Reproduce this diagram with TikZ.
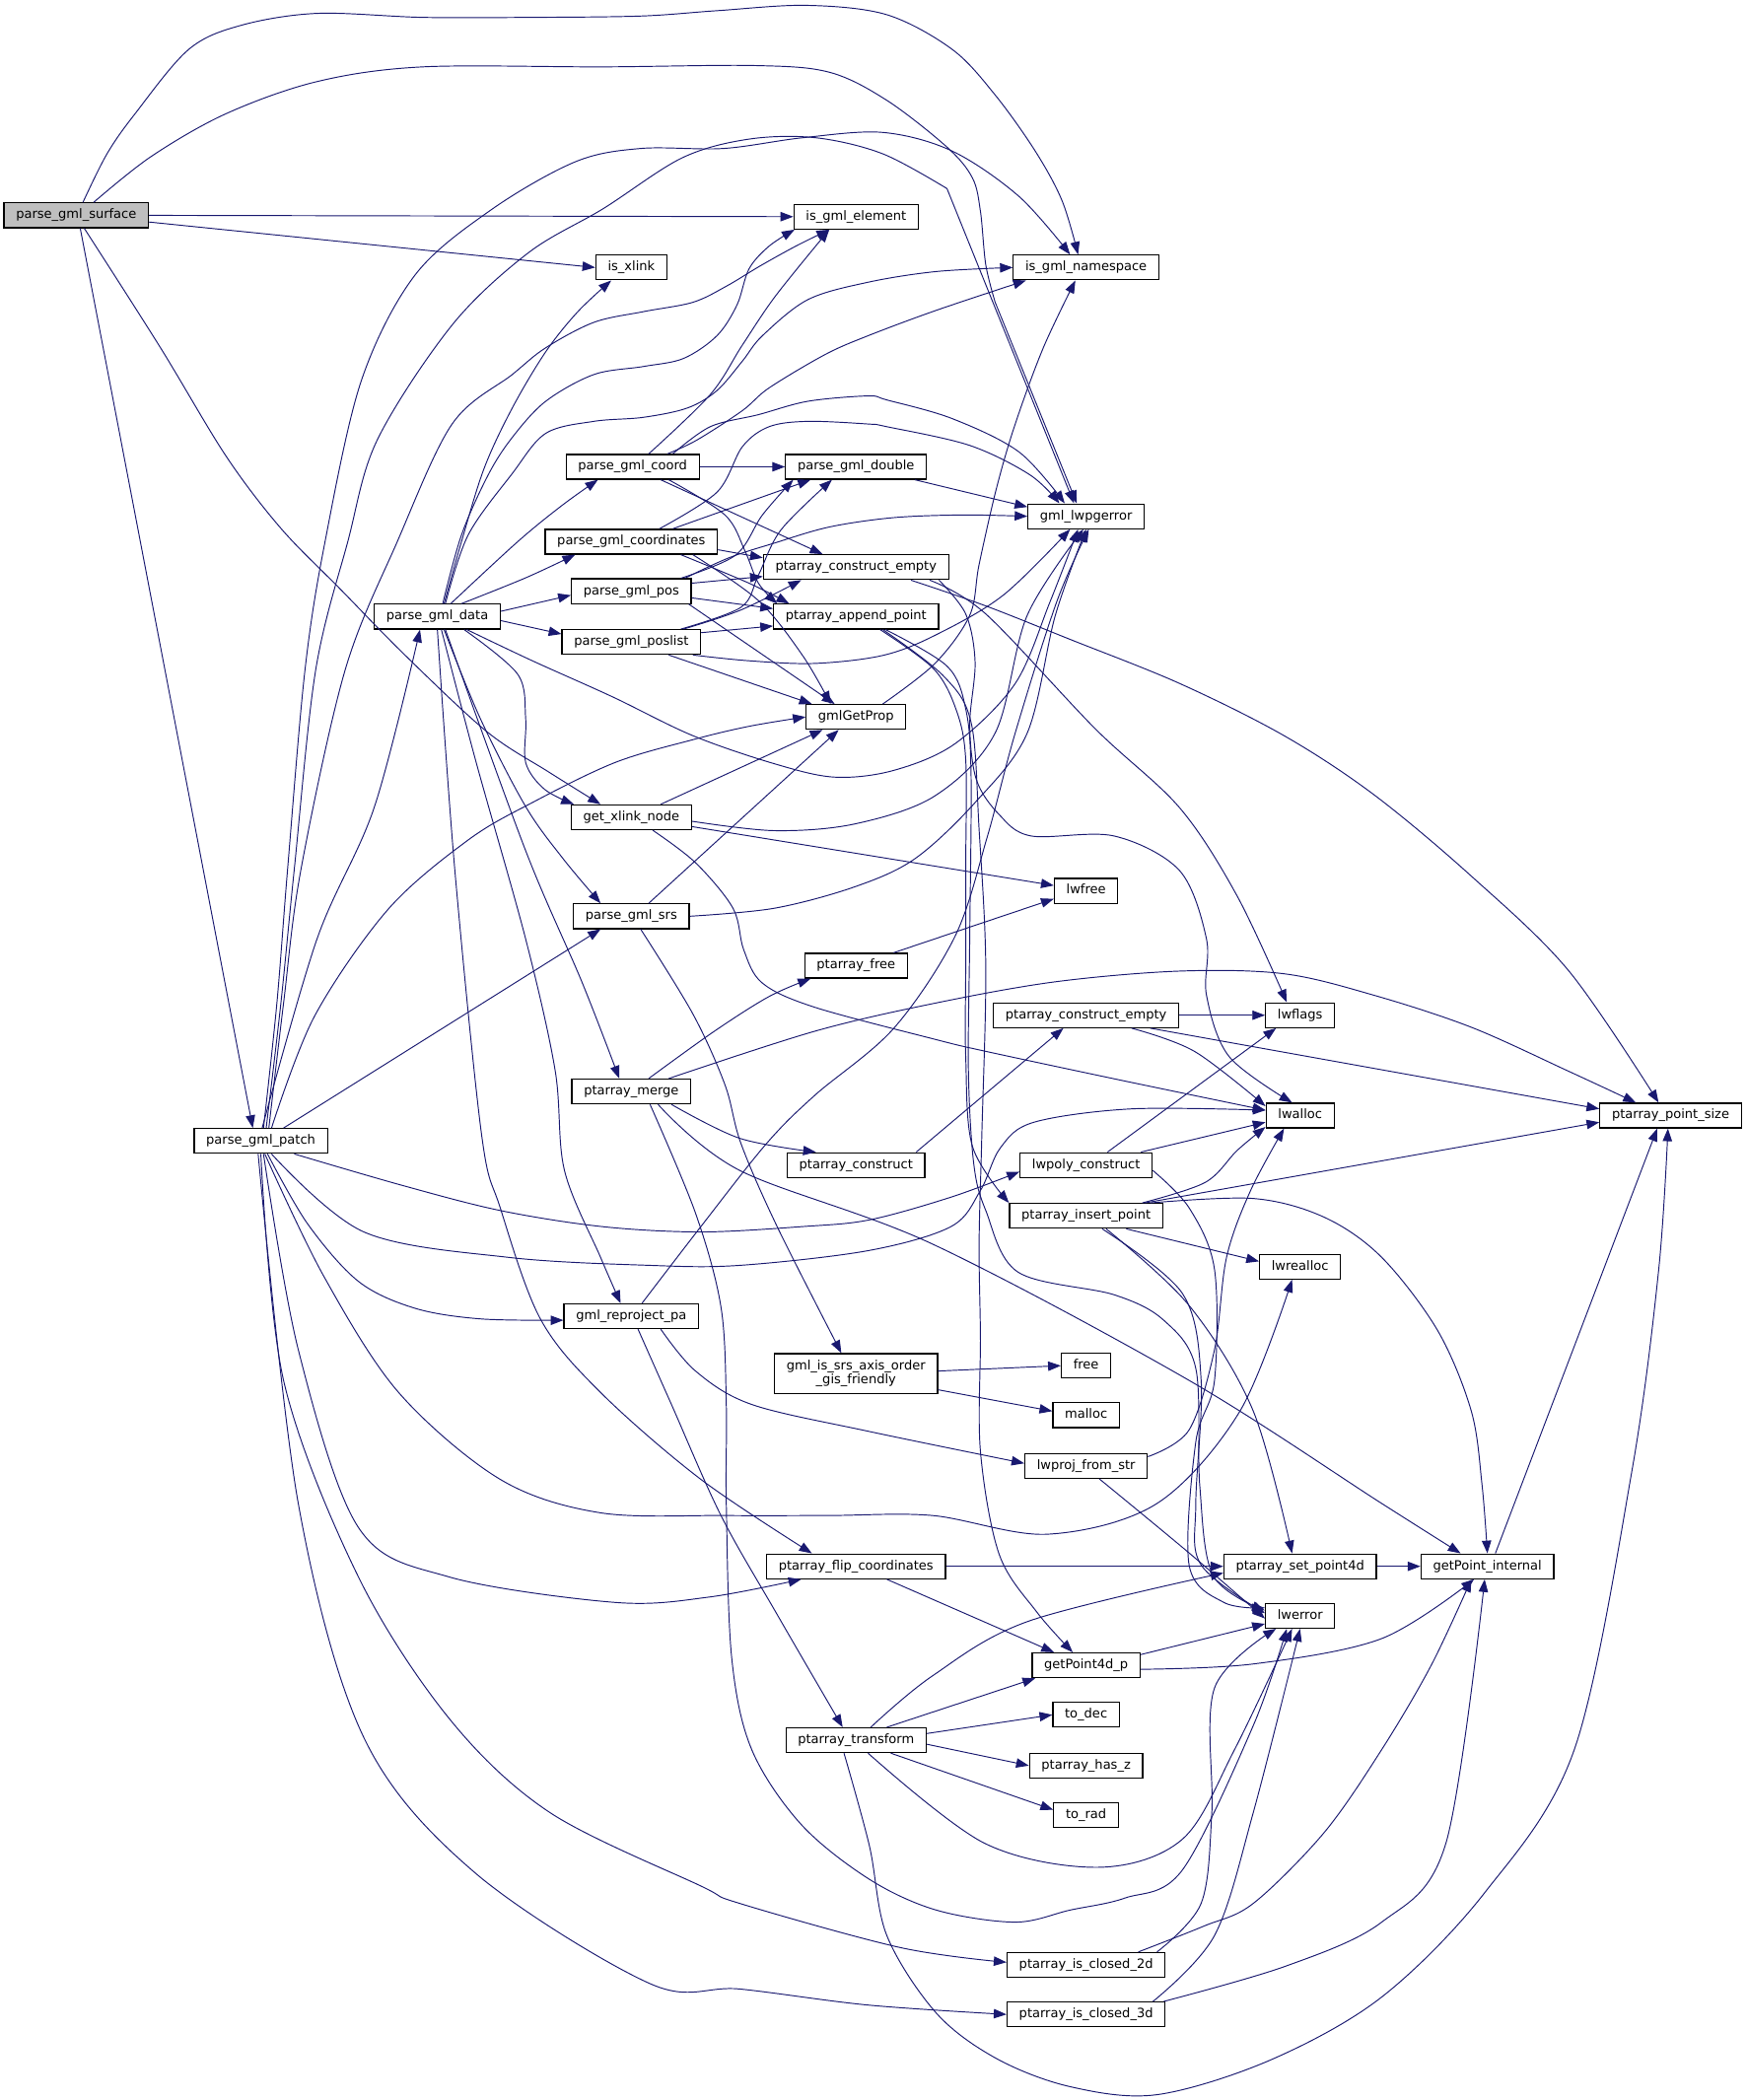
\documentclass[tikz,border=0pt]{standalone}
\usepackage{fontspec}
\setmainfont{DejaVu Sans}
\usetikzlibrary{arrows.meta}
\definecolor{edgeblue}{RGB}{25,25,112}
\definecolor{rootgray}{RGB}{191,191,191}

\begin{document}
\begin{tikzpicture}[x=1pt, y=-1pt,
    fnbox/.style={draw=black, line width=0.9pt, fill=white, inner xsep=9pt, inner ysep=0pt,
      minimum height=18.5pt, text height=7.2pt, text depth=2.2pt,
      font=\fontsize{9.6}{11}\selectfont},
    rootbox/.style={fill=rootgray},
    call/.style={draw=edgeblue, line width=0.7pt, -{Triangle[length=9.5pt,width=7pt]}},
    crv/.style={smooth, tension=0.55}]
    % Page
    \fill[white] (0,0) rectangle (1306,1570);
    \useasboundingbox (0,0) rectangle (1306,1570);

    % Functions
    \node[fnbox, rootbox] (surf) at (57,161) {parse\_gml\_surface};
    \node[fnbox] (iselem) at (640,162) {is\_gml\_element};
    \node[fnbox] (isxlink) at (472,200) {is\_xlink};
    \node[fnbox] (isns) at (812,200) {is\_gml\_namespace};
    \node[fnbox] (coord) at (473,349) {parse\_gml\_coord};
    \node[fnbox] (dbl) at (640,349) {parse\_gml\_double};
    \node[fnbox] (gmlerr) at (812,386) {gml\_lwpgerror};
    \node[fnbox] (coords) at (472,405) {parse\_gml\_coordinates};
    \node[fnbox] (cempty) at (640,424) {ptarray\_construct\_empty};
    \node[fnbox] (pos) at (472,442) {parse\_gml\_pos};
    \node[fnbox] (append) at (640,461) {ptarray\_append\_point};
    \node[fnbox] (poslist) at (472,480) {parse\_gml\_poslist};
    \node[fnbox] (data) at (327,461) {parse\_gml\_data};
    \node[fnbox] (getprop) at (640,536) {gmlGetProp};
    \node[fnbox] (xlink) at (472,611) {get\_xlink\_node};
    \node[fnbox] (lwfree) at (812,666) {lwfree};
    \node[fnbox] (srs) at (472,685) {parse\_gml\_srs};
    \node[fnbox] (pafree) at (640,722) {ptarray\_free};
    \node[fnbox] (cemptytwo) at (812,759) {ptarray\_construct\_empty};
    \node[fnbox] (lwflags) at (972,759) {lwflags};
    \node[fnbox] (merge) at (472,816) {ptarray\_merge};
    \node[fnbox] (lwalloc) at (972,834) {lwalloc};
    \node[fnbox] (ptsize) at (1249,834) {ptarray\_point\_size};
    \node[fnbox] (patch) at (195,853) {parse\_gml\_patch};
    \node[fnbox] (construct) at (640,871) {ptarray\_construct};
    \node[fnbox] (polyc) at (812,871) {lwpoly\_construct};
    \node[fnbox] (insert) at (812,909) {ptarray\_insert\_point};
    \node[fnbox] (lwrealloc) at (972,947) {lwrealloc};
    \node[fnbox] (reproj) at (472,984) {gml\_reproject\_pa};
    \node[fnbox, text height={}, text depth={}, align=center, minimum height=30pt,
      font=\fontsize{9.6}{10.6}\selectfont] (axisord) at (640,1027) {gml\_is\_srs\_axis\_order\\\_gis\_friendly};
    \node[fnbox] (free) at (812,1021) {free};
    \node[fnbox] (malloc) at (812,1058) {malloc};
    \node[fnbox] (projstr) at (812,1096) {lwproj\_from\_str};
    \node[fnbox] (flip) at (640,1171) {ptarray\_flip\_coordinates};
    \node[fnbox] (setpt) at (972,1171) {ptarray\_set\_point4d};
    \node[fnbox] (getpt) at (1112,1171) {getPoint\_internal};
    \node[fnbox] (lwerror) at (972,1208) {lwerror};
    \node[fnbox] (getptfour) at (812,1245) {getPoint4d\_p};
    \node[fnbox] (todec) at (812,1282) {to\_dec};
    \node[fnbox] (transform) at (640,1301) {ptarray\_transform};
    \node[fnbox] (hasz) at (812,1320) {ptarray\_has\_z};
    \node[fnbox] (torad) at (812,1357) {to\_rad};
    \node[fnbox] (closedtwo) at (812,1469) {ptarray\_is\_closed\_2d};
    \node[fnbox] (closedthree) at (812,1506) {ptarray\_is\_closed\_3d};

    % parse_gml_surface
    \draw[call] (surf.east) -- (iselem.west);
    \draw[call] ([yshift=-5pt]surf.east) -- (isxlink.west);
    \draw[call] plot[crv] coordinates {([xshift=5pt]surf.north) (80,115) (101,85) (141,37) (180,19) (237,10) (316,13) (395,13) (479,12) (536,8) (603,4) (663,11) (712,37) (744,71) (774,113) (794,150) ([xshift=-6pt]isns.north)};
    \draw[call] plot[crv] coordinates {([xshift=13pt]surf.north) (113,117) (169,85) (237,61) (316,50) (451,50) (564,49) (620,54) (663,75) (708,110) (727,133) (733,158) (737,198) (744,226)} -- ([xshift=-7pt]gmlerr.north);
    \draw[call] plot[crv] coordinates {([xshift=6pt]surf.south) (120,260) (169,341) (210,395) (254,440) (303,490) (364,547) (410,577) ([xshift=-23pt]xlink.north)};
    \draw[call] ([xshift=3pt]surf.south) -- ([xshift=-6pt]patch.north);

    % parse_gml_patch
    \draw[call] plot[crv] coordinates {([xshift=2pt]patch.north) (207,750) (215,650) (228,501) (243,405) (270,285) (310,206) (367,157) (430,121) (479,111) (541,111) (600,103) (660,99) (712,113) (762,147) ([xshift=-12pt]isns.north)};
    \draw[call] plot[crv] coordinates {([xshift=4pt]patch.north) (210,750) (220,650) (236,501) (260,405) (282,329) (338,243) (395,189) (451,156) (510,118) (560,104) (610,103) (660,115) (708,141)} -- ([xshift=-9pt]gmlerr.north);
    \draw[call] plot[crv] coordinates {([xshift=6pt]patch.north) (212,750) (225,650) (258,501) (297,405) (338,317) (383,280) (408,260) (444,241) (481,233) (518,226) (543,214) (568,199) (595,184) ([xshift=-20pt]iselem.south)};
    \draw[call] plot[crv] coordinates {([xshift=1pt]patch.north) (237,702) (280,603) ([xshift=-13pt]data.south)};
    \draw[call] plot[crv] coordinates {([xshift=8pt]patch.north) (235,760) (290,680) (350,628) (398,600) (460,570) (518,553) (560,543) (getprop.west)};
    \draw[call] ([xshift=17pt]patch.north) -- ([xshift=-23pt]srs.south);
    \draw[call] plot[crv] coordinates {([xshift=25pt]patch.south) (300,886) (374,905) (450,917) (524,921) (600,917) (650,912) (711,895) ([yshift=-5pt]polyc.west)};
    \draw[call] plot[crv] coordinates {([xshift=8pt]patch.south) (272,921) (380,940) (486,946) (553,946) (649,935) (711,917) (733,890) (748,858) (773,839) (846,829) ([yshift=4pt]lwalloc.west)};
    \draw[call] plot[crv] coordinates {([xshift=5pt]patch.south) (230,915) (268,958) (310,978) (359,986) ([yshift=-3pt]reproj.west)};
    \draw[call] plot[crv] coordinates {([xshift=3pt]patch.south) (242,954) (298,1041) (374,1106) (449,1131) (543,1133) (620,1133) (697,1133) (783,1147) (865,1124) (927,1055) ([xshift=-6pt]lwrealloc.south)};
    \draw[call] plot[crv] coordinates {([xshift=2pt]patch.south) (223,1009) (268,1142) (336,1179) (460,1198) (530,1194) ([xshift=-41pt]flip.south)};
    \draw[call] plot[crv] coordinates {(patch.south) (212,1032) (268,1179) (336,1285) (411,1355) (524,1410) (553,1423) (673,1456) ([yshift=2pt]closedtwo.west)};
    \draw[call] plot[crv] coordinates {([xshift=-2pt]patch.south) (223,1124) (272,1299) (355,1400) (486,1483) (553,1487) (649,1499) (closedthree.west)};

    % parse_gml_data
    \draw[call] plot[crv] coordinates {([xshift=5pt]data.north) (345,405) (362,350) (383,305) (408,263) (432,233) ([xshift=-15pt]isxlink.south)};
    \draw[call] plot[crv] coordinates {([xshift=4pt]data.north) (345,400) (365,355) (383,327) (408,300) (444,280) (481,274) (511,268) (536,251) (551,228) (560,201) (575,184) ([xshift=-46pt]iselem.south)};
    \draw[call] plot[crv] coordinates {([xshift=6pt]data.north) (350,400) (383,354) (408,324) (444,315) (481,312) (514,305) (536,292) (555,270) (570,251) (604,224) (649,211) (700,203) (isns.west)};
    \draw[call] plot[crv] coordinates {([xshift=10pt]data.north) (387,405) (420,378) ([xshift=-26pt]coord.south)};
    \draw[call] plot[crv] coordinates {([xshift=18pt]data.north) (393,432) ([xshift=-42pt]coords.south)};
    \draw[call] ([yshift=4pt]data.east) -- ([yshift=-3pt]pos.west);
    \draw[call] ([yshift=-3pt]data.east) -- ([yshift=6pt]poslist.west);
    \draw[call] plot[crv] coordinates {([xshift=20pt]data.south) (387,504) (393,537) (393,570) (407,590) ([xshift=-43pt]xlink.north)};
    \draw[call] plot[crv] coordinates {([xshift=5pt]data.south) (359,537) (393,603) (421,642) ([xshift=-23pt]srs.north)};
    \draw[call] plot[crv] coordinates {([xshift=6pt]data.south) (393,636) (435,734) ([xshift=-9pt]merge.north)};
    \draw[call] plot[crv] coordinates {([xshift=3pt]data.south) (356,570) (393,702) (415,800) (422,875) (449,940) ([xshift=-8pt]reproj.north)};
    \draw[call] plot[crv] coordinates {(data.south) (340,650) (360,848) (374,903) (404,986) (449,1041) (524,1106) ([xshift=-33pt]flip.north)};
    \draw[call] plot[crv] coordinates {([xshift=22pt]data.south) (398,494) (458,521) (518,550) (579,571) (624,581) (668,576) (714,556) (759,511) (785,450) ([xshift=-6pt]gmlerr.south)};

    % parse_gml_coord
    \draw[call] plot[crv] coordinates {([xshift=12pt]coord.north) (531,295) (555,258) (580,221) ([xshift=-20pt]iselem.south)};
    \draw[call] plot[crv] coordinates {([xshift=26pt]coord.north) (521,329) (555,307) (575,290) (617,265) (649,251) (700,232) ([xshift=-45pt]isns.south)};
    \draw[call] plot[crv] coordinates {([xshift=30pt]coord.north) (531,319) (567,310) (604,300) (649,296) (663,299) (712,313) (762,338) ([xshift=-16pt]gmlerr.north)};
    \draw[call] (coord.east) -- (dbl.west);
    \draw[call] ([xshift=21pt]coord.south) -- ([xshift=-25pt]cempty.north);
    \draw[call] plot[crv] coordinates {([xshift=27pt]coord.south) (542,385) (557,412) (567,436) ([xshift=-59pt]append.north)};

    % parse_gml_coordinates
    \draw[call] ([xshift=31pt]coords.north) -- ([xshift=-34pt]dbl.south);
    \draw[call] plot[crv] coordinates {([xshift=21pt]coords.north) (536,368) (555,334) (575,319) (604,315) (649,317) (663,319) (725,333) (770,355) ([xshift=-20pt]gmlerr.north)};
    \draw[call] ([yshift=-6pt]coords.east) -- ([yshift=7pt]cempty.west);
    \draw[call] plot[crv] coordinates {([xshift=37pt]coords.south) (560,436) ([xshift=-50pt]append.north)};
    \draw[call] plot[crv] coordinates {([xshift=46pt]coords.south) (567,449) (600,490) ([xshift=-19pt]getprop.north)};

    % parse_gml_pos
    \draw[call] plot[crv] coordinates {([xshift=37pt]pos.north) (550,415) (570,385) ([xshift=-47pt]dbl.south)};
    \draw[call] plot[crv] coordinates {([xshift=40pt]pos.north) (545,417) (579,406) (620,394) (668,387) (720,385) (gmlerr.west)};
    \draw[call] ([yshift=6pt]pos.east) -- ([yshift=-7pt]cempty.west);
    \draw[call] ([yshift=-5pt]pos.east) -- ([yshift=6pt]append.west);
    \draw[call] ([xshift=43pt]pos.south) -- ([xshift=-16pt]getprop.north);

    % parse_gml_poslist
    \draw[call] plot[crv] coordinates {([xshift=37pt]poslist.north) (554,454) (567,430) (584,396) ([xshift=-18pt]dbl.south)};
    \draw[call] plot[crv] coordinates {([xshift=46pt]poslist.south) (560,494) (609,496) (660,490) (699,475) (750,445) ([xshift=-12pt]gmlerr.south)};
    \draw[call] plot[crv] coordinates {([xshift=39pt]poslist.north) (554,456) ([xshift=-41pt]cempty.south)};
    \draw[call] ([yshift=7pt]poslist.east) -- ([yshift=-7pt]append.west);
    \draw[call] ([xshift=28pt]poslist.south) -- ([xshift=-33pt]getprop.north);

    % parse_gml_double
    \draw[call] ([xshift=44pt]dbl.south) -- ([yshift=7pt]gmlerr.west);

    % ptarray_construct_empty
    \draw[call] plot[crv] coordinates {([xshift=55pt]cempty.south) (737,459) (819,545) (882,604) (925,670) ([xshift=-10pt]lwflags.north)};
    \draw[call] plot[crv] coordinates {([xshift=62pt]cempty.south) (722,459) (729,495) (725,542) (730,583) (747,609) (771,625) (833,625) (882,651) (902,702) (902,744) (919,790) ([xshift=-6pt]lwalloc.north)};
    \draw[call] plot[crv] coordinates {([xshift=41pt]cempty.south) (737,453) (800,478) (882,511) (960,550) (1027,594) (1100,655) (1173,726) ([xshift=-9pt]ptsize.north)};

    % ptarray_append_point
    \draw[call] plot[crv] coordinates {([xshift=18pt]append.south) (698,500) (715,531) (722,568) (722,650) (722,723) (722,790) (727,857) (insert.north west)};
    \draw[call] plot[crv] coordinates {([xshift=20pt]append.south) (705,505) (726,540) (732,620) (737,723) (734,850) (732,930) (733,1000) (733,1085) (747,1162) (775,1205) ([xshift=-10pt]getptfour.north)};
    \draw[call] plot[crv] coordinates {([xshift=22pt]append.south) (708,498) (722,530) (726,580) (725,700) (724,800) (728,870) (737,905) (761,951) (833,968) (870,987) (894,1023) (897,1111) (907,1178) ([yshift=4pt]lwerror.west)};

    % gmlGetProp
    \draw[call] plot[crv] coordinates {([xshift=20pt]getprop.north) (699,496) (725,460) (732,422) (745,365) (759,317) (780,260) ([xshift=-8pt]isns.south)};

    % get_xlink_node
    \draw[call] ([xshift=22pt]xlink.north) -- ([xshift=-25pt]getprop.south);
    \draw[call] ([yshift=-7pt]xlink.east) -- ([yshift=4pt]lwfree.west);
    \draw[call] plot[crv] coordinates {([yshift=-3pt]xlink.east) (579,621) (639,616) (699,595) (744,548) (768,460) ([xshift=-2pt]gmlerr.south)};
    \draw[call] plot[crv] coordinates {([xshift=16pt]xlink.south) (520,645) (548,679) (556,710) (570,735) (609,753) (699,777) (737,786) (840,808) ([yshift=4pt]lwalloc.west)};

    % parse_gml_srs
    \draw[call] ([xshift=13pt]srs.north) -- ([xshift=-13pt]getprop.south);
    \draw[call] plot[crv] coordinates {(srs.east) (579,679) (639,663) (684,642) (729,600) (768,548) (789,460) (gmlerr.south)};
    \draw[call] plot[crv] coordinates {([xshift=7pt]srs.south) (518,758) (542,811) (554,855) (581,917) ([xshift=-11pt]axisord.north)};

    % ptarray_free
    \draw[call] ([xshift=28pt]pafree.north) -- ([yshift=-6pt]lwfree.west);

    % ptarray_construct_empty (second)
    \draw[call] (cemptytwo.east) -- (lwflags.west);
    \draw[call] plot[crv] coordinates {([xshift=34pt]cemptytwo.south) (893,786) ([yshift=7pt]lwalloc.west)};
    \draw[call] ([xshift=48pt]cemptytwo.south) -- ([yshift=5pt]ptsize.west);

    % ptarray_merge
    \draw[call] plot[crv] coordinates {([xshift=13pt]merge.north) (534,771) (575,745) ([xshift=-34pt]pafree.south)};
    \draw[call] plot[crv] coordinates {([xshift=28pt]merge.north) (609,771) (699,750) (789,734) (882,726) (960,728) (1027,744) (1100,768) (1173,801) ([xshift=-26pt]ptsize.north)};
    \draw[call] plot[crv] coordinates {([xshift=30pt]merge.south) (553,851) ([xshift=-30pt]construct.north)};
    \draw[call] plot[crv] coordinates {([xshift=14pt]merge.south) (520,907) (539,977) (543,1050) (543,1124) (547,1239) (562,1308) (599,1364) (650,1405) (700,1428) (759,1437) (800,1428) (841,1419) (884,1398) (937,1290) ([xshift=-10pt]lwerror.south)};
    \draw[call] plot[crv] coordinates {([xshift=20pt]merge.south) (553,875) (697,930) (889,1032) (1033,1124) ([xshift=-20pt]getpt.north)};

    % ptarray_construct
    \draw[call] ([xshift=45pt]construct.north) -- ([xshift=-17pt]cemptytwo.south);

    % lwpoly_construct
    \draw[call] ([xshift=16pt]polyc.north) -- ([xshift=-18pt]lwflags.south);
    \draw[call] ([xshift=41pt]polyc.north) -- ([yshift=-5pt]lwalloc.west);
    \draw[call] plot[crv] coordinates {([yshift=-4pt]polyc.east) (889,903) (908,949) (908,1032) (894,1078) (889,1170) (915,1198) ([yshift=6pt]lwerror.west)};

    % ptarray_insert_point
    \draw[call] plot[crv] coordinates {([xshift=42pt]insert.north) (901,884) (925,860) ([yshift=-8.5pt]lwalloc.west)};
    \draw[call] ([xshift=44pt]insert.north) -- ([yshift=-5pt]ptsize.west);
    \draw[call] ([xshift=30pt]insert.south) -- ([yshift=4pt]lwrealloc.west);
    \draw[call] plot[crv] coordinates {([xshift=48pt]insert.north) (937,896) (990,910) (1033,940) (1075,995) (1100,1055) (1108,1110) (getpt.north)};
    \draw[call] plot[crv] coordinates {([xshift=15pt]insert.south) (889,976) (937,1055) ([xshift=-6pt]setpt.north)};
    \draw[call] plot[crv] coordinates {([xshift=12pt]insert.south) (884,967) (898,1032) (894,1124) (898,1170) ([yshift=2pt]lwerror.west)};

    % gml_reproject_pa
    \draw[call] plot[crv] coordinates {([xshift=8pt]reproj.north) (524,917) (573,855) (609,819) (668,769) (714,700) (738,626) (759,548) (790,450) ([xshift=2pt]gmlerr.south)};
    \draw[call] plot[crv] coordinates {([xshift=22pt]reproj.south) (520,1025) (562,1050) (649,1070) ([yshift=2pt]projstr.west)};
    \draw[call] plot[crv] coordinates {([xshift=5pt]reproj.south) (502,1050) (539,1133) (581,1207) ([xshift=-10pt]transform.north)};

    % gml_is_srs_axis_order_gis_friendly
    \draw[call] ([yshift=2pt]axisord.east) -- (free.west);
    \draw[call] ([yshift=-12pt]axisord.east) -- ([yshift=3pt]malloc.west);

    % lwproj_from_str
    \draw[call] plot[crv] coordinates {([yshift=7pt]projstr.east) (889,1069) (908,1009) (917,940) (935,890) ([xshift=-12pt]lwalloc.south)};
    \draw[call] plot[crv] coordinates {([xshift=10pt]projstr.south) (889,1161) ([yshift=-2pt]lwerror.west)};

    % ptarray_flip_coordinates
    \draw[call] (flip.east) -- (setpt.west);
    \draw[call] ([xshift=23pt]flip.south) -- ([xshift=-24pt]getptfour.north);

    % ptarray_set_point4d
    \draw[call] (setpt.east) -- (getpt.west);

    % getPoint4d_p
    \draw[call] ([yshift=8pt]getptfour.east) -- ([yshift=-6pt]lwerror.west);
    \draw[call] plot[crv] coordinates {([yshift=-3pt]getptfour.east) (937,1244) (1033,1225) ([xshift=-10pt]getpt.south)};

    % ptarray_transform
    \draw[call] plot[crv] coordinates {([xshift=11pt]transform.north) (697,1253) (769,1212) ([yshift=-5pt]setpt.west)};
    \draw[call] ([xshift=23pt]transform.north) -- ([xshift=-38pt]getptfour.south);
    \draw[call] ([yshift=5pt]transform.east) -- (todec.west);
    \draw[call] ([yshift=-3pt]transform.east) -- (hasz.west);
    \draw[call] ([xshift=26pt]transform.south) -- ([yshift=4pt]torad.west);
    \draw[call] plot[crv] coordinates {([xshift=9pt]transform.south) (736,1378) (822,1396) (884,1375) (923,1308) ([xshift=-6pt]lwerror.south)};
    \draw[call] plot[crv] coordinates {([xshift=-9pt]transform.south) (650,1380) (663,1447) (700,1505) (745,1539) (800,1560) (865,1566) (950,1540) (1033,1493) (1110,1415) (1177,1308) (1220,1100) (1240,950) ([xshift=-2pt]ptsize.south)};

    % getPoint_internal
    \draw[call] ([xshift=6pt]getpt.north) -- ([xshift=-10pt]ptsize.south);

    % ptarray_is_closed_2d / 3d
    \draw[call] plot[crv] coordinates {([xshift=39pt]closedtwo.north) (900,1440) (937,1423) (990,1370) (1033,1308) (1070,1245) ([xshift=-12pt]getpt.south)};
    \draw[call] plot[crv] coordinates {([xshift=53pt]closedtwo.north) (898,1423) (906,1355) (908,1262) ([xshift=-18pt]lwerror.south)};
    \draw[call] plot[crv] coordinates {([xshift=58pt]closedthree.north) (961,1470) (1033,1437) (1081,1378) ([xshift=-2pt]getpt.south)};
    \draw[call] plot[crv] coordinates {([xshift=50pt]closedthree.north) (908,1447) (937,1355) (lwerror.south)};
\end{tikzpicture}
\end{document}
